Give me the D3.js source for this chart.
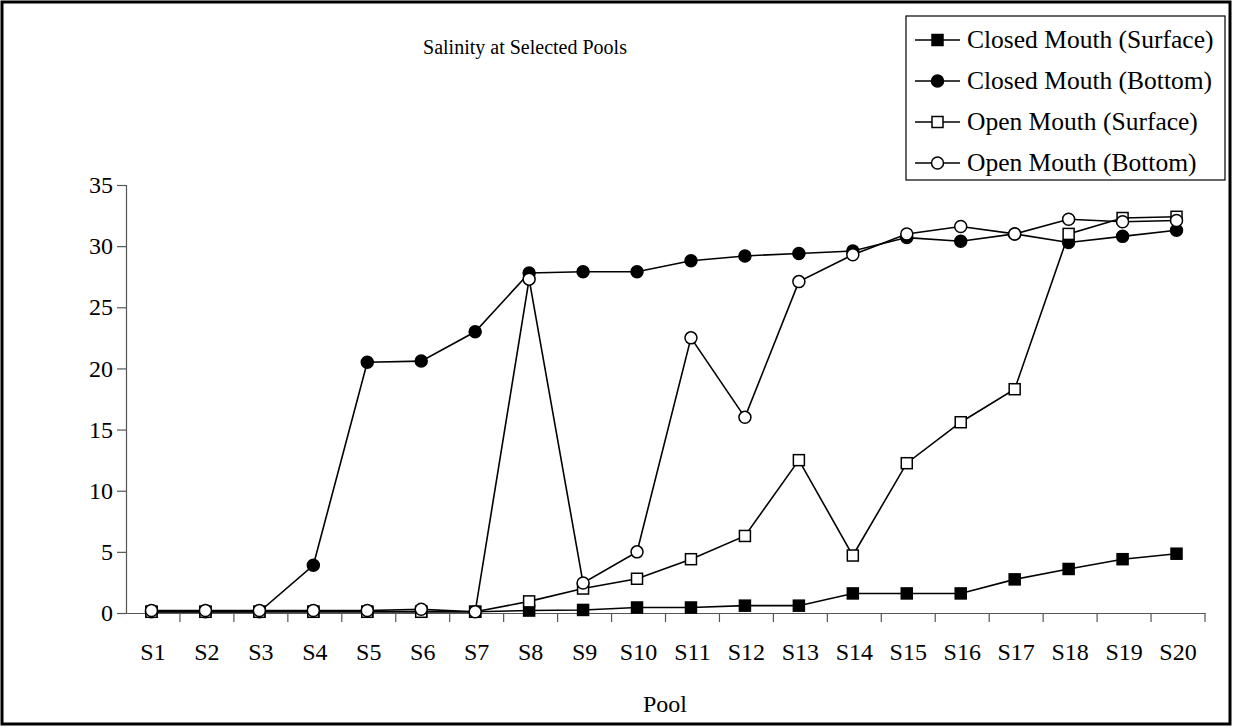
<!DOCTYPE html>
<html>
<head>
<meta charset="utf-8">
<script src="https://d3js.org/d3.v7.min.js"></script>
<style>
body{margin:0;background:#fff;}
text{font-family:"Liberation Serif","Times New Roman",serif;fill:#000;}
</style>
</head>
<body>
<svg width="1233" height="728"></svg>
<script>
var pools = ["S1","S2","S3","S4","S5","S6","S7","S8","S9","S10","S11","S12","S13","S14","S15","S16","S17","S18","S19","S20"];
var closedSurface = [0.1,0.1,0.1,0.1,0.1,0.1,0.1,0.2,0.25,0.45,0.45,0.6,0.6,1.6,1.6,1.6,2.75,3.6,4.4,4.85];
var closedBottom  = [0.1,0.1,0.1,3.9,20.5,20.6,23.0,27.8,27.9,27.9,28.8,29.2,29.4,29.6,30.7,30.4,31.0,30.3,30.8,31.3];
var openSurface   = [0.1,0.1,0.1,0.1,0.1,0.1,0.1,0.95,2.0,2.8,4.4,6.3,12.5,4.7,12.25,15.6,18.3,31.0,32.3,32.4];
var openBottom    = [0.2,0.2,0.2,0.2,0.2,0.3,0.1,27.3,2.45,5.0,22.5,16.0,27.1,29.3,31.0,31.6,31.0,32.2,32.0,32.1];
var yTicks = [0,5,10,15,20,25,30,35];

var series = [
  {name:"Closed Mouth (Surface)", values:closedSurface, shape:"square", fill:"#000"},
  {name:"Closed Mouth (Bottom)",  values:closedBottom,  shape:"circle", fill:"#000"},
  {name:"Open Mouth (Surface)",   values:openSurface,   shape:"square", fill:"#fff"},
  {name:"Open Mouth (Bottom)",    values:openBottom,    shape:"circle", fill:"#fff"}
];

var svg = d3.select("svg");

// outer frame
svg.append("rect")
  .attr("x",2).attr("y",2).attr("width",1228).attr("height",722)
  .attr("fill","none").attr("stroke","#000").attr("stroke-width",3);

var x = d3.scaleBand().domain(pools).range([126,1205]);
var y = d3.scaleLinear().domain([0,35]).range([613,185]);

// y axis
var yAxis = svg.append("g")
  .attr("transform","translate(126,0)")
  .call(d3.axisLeft(y).tickValues(yTicks).tickSize(9).tickPadding(4));
yAxis.select(".domain").attr("stroke","#555").attr("stroke-width",1.2);
yAxis.selectAll(".tick line").attr("stroke","#555").attr("stroke-width",1.2);
yAxis.selectAll("text").attr("font-size",24).attr("font-family","Liberation Serif").attr("fill","#000");

// x axis, ticks at the category boundaries
var xAxis = svg.append("g")
  .attr("transform","translate(0,613)")
  .call(d3.axisBottom(x).tickSize(0).tickPadding(30));
xAxis.select(".domain").attr("stroke","#555").attr("stroke-width",1.2);
xAxis.selectAll("text").attr("font-size",24).attr("font-family","Liberation Serif").attr("fill","#000");
xAxis.selectAll(".bound")
  .data(pools)
  .enter().append("line")
  .attr("class","bound")
  .attr("x1",function(d){ return x(d)+x.bandwidth(); })
  .attr("x2",function(d){ return x(d)+x.bandwidth(); })
  .attr("y1",0).attr("y2",9)
  .attr("stroke","#555").attr("stroke-width",1.2);

// title and axis titles
svg.append("text")
  .attr("x",525).attr("y",54)
  .attr("text-anchor","middle").attr("font-size",20)
  .text("Salinity at Selected Pools");

svg.append("text")
  .attr("x",665).attr("y",712)
  .attr("text-anchor","middle").attr("font-size",24)
  .text("Pool");

svg.append("clipPath").attr("id","ylab")
  .append("rect").attr("x",0).attr("y",330).attr("width",60).attr("height",200);
svg.append("text")
  .attr("clip-path","url(#ylab)")
  .attr("transform","translate(41,466) rotate(-90)")
  .attr("font-size",26)
  .text("Salinity (ppt)");

// lines and markers
var cx = function(i){ return x(pools[i]) + x.bandwidth()/2 - 1.5; };
var line = d3.line()
  .x(function(d,i){ return cx(i); })
  .y(function(d){ return y(d); });

function marker(g, s, px, py){
  if (s.shape == "square") {
    g.append("rect")
      .attr("x",px-5.5).attr("y",py-5.5).attr("width",11).attr("height",11)
      .attr("fill",s.fill).attr("stroke","#000").attr("stroke-width",1.5);
  } else {
    g.append("circle")
      .attr("cx",px).attr("cy",py).attr("r",6)
      .attr("fill",s.fill).attr("stroke","#000").attr("stroke-width",1.5);
  }
}

series.forEach(function(s){
  var g = svg.append("g");
  g.append("path")
    .datum(s.values)
    .attr("d",line)
    .attr("fill","none").attr("stroke","#000").attr("stroke-width",1.6);
  s.values.forEach(function(v,i){ marker(g, s, cx(i), y(v)); });
});

// legend
var leg = svg.append("g");
leg.append("rect")
  .attr("x",906).attr("y",16).attr("width",319).attr("height",164)
  .attr("fill","#fff").attr("stroke","#000").attr("stroke-width",1.2);
series.forEach(function(s,i){
  var ly = 40 + i*41;
  var row = leg.append("g");
  row.append("line")
    .attr("x1",915).attr("x2",960).attr("y1",ly).attr("y2",ly)
    .attr("stroke","#000").attr("stroke-width",1.6);
  marker(row, s, 937.5, ly);
  row.append("text")
    .attr("x",967).attr("y",ly+8)
    .attr("font-size",25.5)
    .text(s.name);
});
</script>
</body>
</html>
